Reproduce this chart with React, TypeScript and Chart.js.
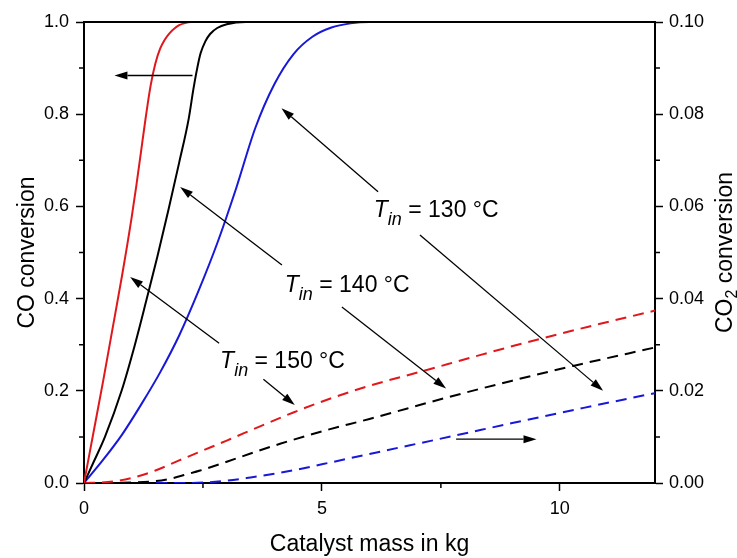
import React, { useEffect, useRef } from 'react';
import { Chart, registerables } from 'chart.js';
Chart.register(...registerables);

const FONT = '"Liberation Sans", Arial, Helvetica, sans-serif';

// CO conversion (left axis)
const red150X = [0, 0.2, 0.4, 0.6, 0.8, 1.0, 1.1, 1.2, 1.3, 1.4, 1.5, 1.6, 1.7, 1.8, 1.9, 2.0, 2.1, 2.25, 12];
const red150Y = [0, 0.11, 0.22, 0.335, 0.45, 0.575, 0.645, 0.72, 0.795, 0.862, 0.91, 0.942, 0.962, 0.976, 0.986, 0.993, 0.997, 1.0, 1.0];
const black140X = [0, 0.2, 0.44, 0.79, 1.07, 1.32, 1.54, 1.78, 2.0, 2.2, 2.3, 2.38, 2.45, 2.55, 2.65, 2.8, 3.0, 3.4, 12];
const black140Y = [0, 0.045, 0.10, 0.20, 0.30, 0.40, 0.49, 0.595, 0.695, 0.79, 0.855, 0.9, 0.932, 0.958, 0.974, 0.987, 0.995, 1.0, 1.0];
const blue130X = [0, 0.4, 0.8, 1.2, 1.6, 2.0, 2.4, 2.8, 3.2, 3.6, 4.0, 4.4, 4.8, 5.2, 5.6, 6.0, 12];
const blue130Y = [0, 0.05, 0.105, 0.17, 0.24, 0.32, 0.415, 0.52, 0.64, 0.77, 0.865, 0.93, 0.968, 0.988, 0.997, 1.0, 1.0];

// CO2 conversion (right axis)
const red150DX = [0, 0.5, 1.0, 1.5, 2.0, 2.44, 3.0, 3.7, 4.4, 5.2, 6.0, 7.13, 8.2, 9.3, 10.6, 12];
const red150DY = [0, 0.0002, 0.0011, 0.0027, 0.0049, 0.0068, 0.0092, 0.0123, 0.0153, 0.0184, 0.0211, 0.0243, 0.0274, 0.0305, 0.0339, 0.0374];
const black140DX = [0, 1.0, 1.5, 1.8, 2.16, 2.44, 3.0, 3.5, 4.12, 5.0, 6.0, 7.65, 9.0, 10.28, 12];
const black140DY = [0, 0.0001, 0.0004, 0.0009, 0.0019, 0.0027, 0.0046, 0.0064, 0.0085, 0.0112, 0.0139, 0.0186, 0.0222, 0.0254, 0.0294];
const blue130DX = [0, 2.0, 2.5, 3.0, 3.5, 4.0, 4.47, 5.2, 6.0, 7.76, 9.0, 10.5, 12];
const blue130DY = [0, 0, 0.0001, 0.0005, 0.0012, 0.0020, 0.0029, 0.0045, 0.0063, 0.0102, 0.0130, 0.0163, 0.0195];

// ticks
const xTicks = [0, 5, 10];
const xMinor = [2.5, 7.5];
const yTicks = [0, 0.2, 0.4, 0.6, 0.8, 1.0];
const yMinor = [0.1, 0.3, 0.5, 0.7, 0.9];
const y2Ticks = [0, 0.02, 0.04, 0.06, 0.08, 0.10];
const y2Minor = [0.01, 0.03, 0.05, 0.07, 0.09];

// annotations (data coordinates: x, left-y)
const arrowX0 = [2.28, 7.82, 6.18, 7.06, 4.16, 5.42, 2.84, 3.77];
const arrowY0 = [0.884, 0.095, 0.632, 0.538, 0.473, 0.382, 0.303, 0.225];
const arrowX1 = [0.64, 9.51, 4.15, 10.91, 2.02, 7.61, 0.97, 4.43];
const arrowY1 = [0.884, 0.095, 0.813, 0.200, 0.642, 0.205, 0.447, 0.169];
const labelTemps = ['130 °C', '140 °C', '150 °C'];
const labelX = [6.09, 4.22, 2.86];
const labelY = [0.576, 0.414, 0.249];

const RED = '#e0181c';
const BLUE = '#1818d8';
const BLACK = '#000000';

const pts = (xs: number[], ys: number[]) => xs.map((x, i) => ({ x, y: ys[i] }));

function drawArrow(ctx: CanvasRenderingContext2D, x0: number, y0: number, x1: number, y1: number) {
  const ang = Math.atan2(y1 - y0, x1 - x0);
  const hl = 13, hw = 4;
  const bx = x1 - hl * Math.cos(ang), by = y1 - hl * Math.sin(ang);
  ctx.beginPath();
  ctx.moveTo(x0, y0);
  ctx.lineTo(bx, by);
  ctx.stroke();
  ctx.beginPath();
  ctx.moveTo(x1, y1);
  ctx.lineTo(bx + hw * Math.sin(ang), by - hw * Math.cos(ang));
  ctx.lineTo(bx - hw * Math.sin(ang), by + hw * Math.cos(ang));
  ctx.closePath();
  ctx.fill();
}

const decor = {
  id: 'decor',
  afterDraw(chart: any) {
    const ctx: CanvasRenderingContext2D = chart.ctx;
    const { left, right, top, bottom } = chart.chartArea;
    const xs = chart.scales.x, ys = chart.scales.y, y2 = chart.scales.y2;
    ctx.save();
    ctx.strokeStyle = BLACK;
    ctx.fillStyle = BLACK;
    // top frame
    ctx.lineWidth = 2;
    ctx.beginPath();
    ctx.moveTo(left - 1, top);
    ctx.lineTo(right + 1, top);
    ctx.stroke();
    // minor ticks
    ctx.lineWidth = 1.5;
    ctx.beginPath();
    xMinor.forEach(v => { const p = xs.getPixelForValue(v); ctx.moveTo(p, bottom); ctx.lineTo(p, bottom + 5); });
    yMinor.forEach(v => { const p = ys.getPixelForValue(v); ctx.moveTo(left, p); ctx.lineTo(left - 5, p); });
    y2Minor.forEach(v => { const p = y2.getPixelForValue(v); ctx.moveTo(right, p); ctx.lineTo(right + 5, p); });
    ctx.stroke();
    // arrows
    ctx.lineWidth = 1.3;
    arrowX0.forEach((_, i) => {
      drawArrow(ctx, xs.getPixelForValue(arrowX0[i]), ys.getPixelForValue(arrowY0[i]),
        xs.getPixelForValue(arrowX1[i]), ys.getPixelForValue(arrowY1[i]));
    });
    // T_in labels
    ctx.textAlign = 'left';
    ctx.textBaseline = 'alphabetic';
    labelTemps.forEach((t, i) => {
      let cx = xs.getPixelForValue(labelX[i]);
      const cy = ys.getPixelForValue(labelY[i]);
      ctx.font = `italic 23px ${FONT}`;
      ctx.fillText('T', cx, cy);
      cx += ctx.measureText('T').width;
      ctx.font = `italic 18px ${FONT}`;
      ctx.fillText('in', cx, cy + 8);
      cx += ctx.measureText('in').width;
      ctx.font = `23px ${FONT}`;
      ctx.fillText(' = ' + t, cx, cy);
    });
    // axis titles
    ctx.font = `23px ${FONT}`;
    ctx.textAlign = 'center';
    ctx.fillText('Catalyst mass in kg', (left + right) / 2, 551);
    const mid = (top + bottom) / 2;
    ctx.save();
    ctx.translate(34, mid);
    ctx.rotate(-Math.PI / 2);
    ctx.fillText('CO conversion', 0, 0);
    ctx.restore();
    ctx.save();
    ctx.translate(732, mid);
    ctx.rotate(-Math.PI / 2);
    ctx.textAlign = 'left';
    ctx.font = `23px ${FONT}`;
    const w1 = ctx.measureText('CO').width;
    const w3 = ctx.measureText(' conversion').width;
    ctx.font = `16px ${FONT}`;
    const w2 = ctx.measureText('2').width;
    let sx = -(w1 + w2 + w3) / 2;
    ctx.font = `23px ${FONT}`;
    ctx.fillText('CO', sx, 0);
    sx += w1;
    ctx.font = `16px ${FONT}`;
    ctx.fillText('2', sx, 5);
    sx += w2;
    ctx.font = `23px ${FONT}`;
    ctx.fillText(' conversion', sx, 0);
    ctx.restore();
    ctx.restore();
  },
};

const tickFont = { family: FONT, size: 18 };
const gridOpts = { display: true, drawOnChartArea: false, drawTicks: true, tickLength: 8, tickWidth: 1.5, tickColor: BLACK };
const borderOpts = { display: true, color: BLACK, width: 2 };

export default function App() {
  const ref = useRef<HTMLCanvasElement>(null);
  useEffect(() => {
    const solid = (label: string, xs: number[], ys: number[], color: string) => ({
      label, data: pts(xs, ys), borderColor: color, backgroundColor: color, borderWidth: 2,
      pointRadius: 0, cubicInterpolationMode: 'monotone' as const, yAxisID: 'y', fill: false,
    });
    const dashed = (label: string, xs: number[], ys: number[], color: string) => ({
      label, data: pts(xs, ys), borderColor: color, backgroundColor: color, borderWidth: 2,
      borderDash: [11, 7], pointRadius: 0, cubicInterpolationMode: 'monotone' as const, yAxisID: 'y2', fill: false,
    });
    const chart = new Chart(ref.current as HTMLCanvasElement, {
      type: 'line',
      data: {
        datasets: [
          solid('CO 150', red150X, red150Y, RED),
          solid('CO 140', black140X, black140Y, BLACK),
          solid('CO 130', blue130X, blue130Y, BLUE),
          dashed('CO2 150', red150DX, red150DY, RED),
          dashed('CO2 140', black140DX, black140DY, BLACK),
          dashed('CO2 130', blue130DX, blue130DY, BLUE),
        ],
      },
      options: {
        animation: false,
        responsive: false,
        devicePixelRatio: 1,
        layout: { padding: { top: 22, left: 0, right: 0, bottom: 0 } },
        plugins: { legend: { display: false }, tooltip: { enabled: false } },
        scales: {
          x: {
            type: 'linear', position: 'bottom', min: 0, max: 12,
            afterBuildTicks: (s: any) => { s.ticks = xTicks.map(v => ({ value: v })); },
            afterFit: (s: any) => { s.height = 75; },
            ticks: { font: tickFont, color: BLACK, padding: 7, maxRotation: 0, autoSkip: false, callback: (v: any) => String(v) },
            grid: gridOpts, border: borderOpts,
          },
          y: {
            type: 'linear', position: 'left', min: 0, max: 1,
            afterBuildTicks: (s: any) => { s.ticks = yTicks.map(v => ({ value: v })); },
            afterFit: (s: any) => { s.width = 84; },
            ticks: { font: tickFont, color: BLACK, padding: 7, autoSkip: false, callback: (v: any) => Number(v).toFixed(1) },
            grid: gridOpts, border: borderOpts,
          },
          y2: {
            type: 'linear', position: 'right', min: 0, max: 0.1,
            afterBuildTicks: (s: any) => { s.ticks = y2Ticks.map(v => ({ value: v })); },
            afterFit: (s: any) => { s.width = 82; },
            ticks: { font: tickFont, color: BLACK, padding: 6, autoSkip: false, callback: (v: any) => Number(v).toFixed(2) },
            grid: gridOpts, border: borderOpts,
          },
        },
      } as any,
      plugins: [decor],
    });
    return () => chart.destroy();
  }, []);
  return (
    <div style={{ position: 'absolute', left: 0, top: 0, width: 737, height: 558, background: '#fff' }}>
      <canvas ref={ref} width={737} height={558} style={{ width: 737, height: 558, display: 'block' }} />
    </div>
  );
}
